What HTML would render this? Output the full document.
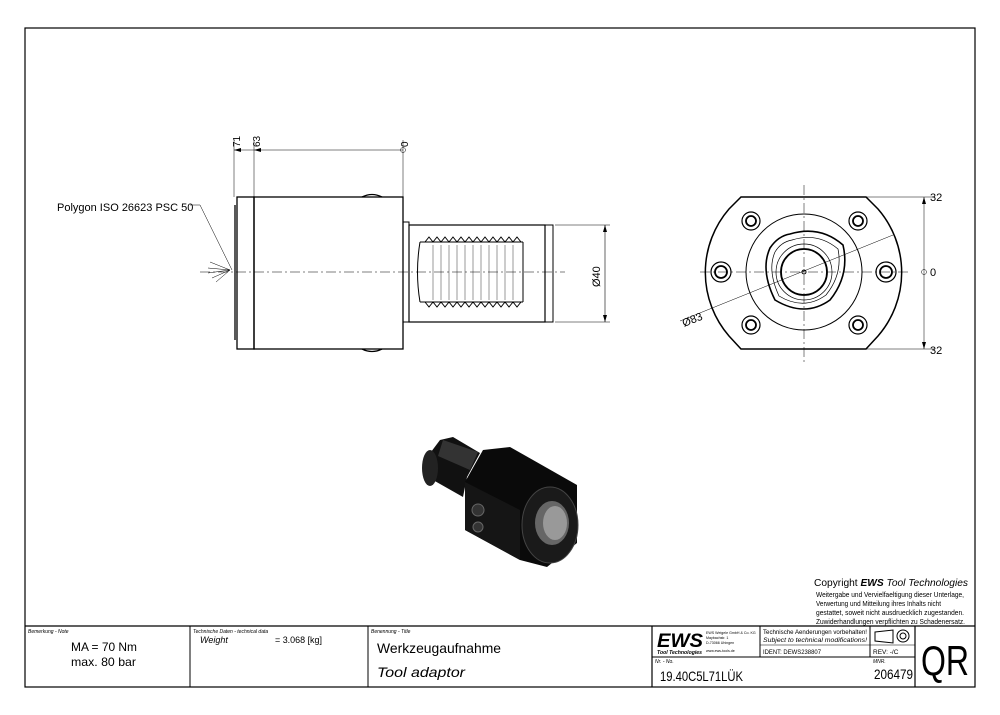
<!DOCTYPE html>
<html><head><meta charset="utf-8"><style>
html,body{margin:0;padding:0;background:#fff;}
svg{display:block;font-family:"Liberation Sans",sans-serif;}
</style></head><body>
<svg width="1000" height="715" viewBox="0 0 1000 715" xmlns="http://www.w3.org/2000/svg">
<rect x="25" y="28" width="950" height="659" fill="none" stroke="#000" stroke-width="1.2"/>

<!-- side view -->
<g fill="none" stroke="#000" stroke-width="1">
<line x1="200" y1="272" x2="565" y2="272" stroke-dasharray="10,3,2,3" stroke-width="0.6"/>
<rect x="237" y="197" width="17" height="152" stroke-width="1.3"/>
<line x1="235" y1="205" x2="235" y2="340" stroke-width="1.3"/>
<rect x="254" y="197" width="149" height="152" stroke-width="1.3"/>
<path d="M362 197 q10 -5 20 0 M362 349 q10 5 20 0" stroke-width="1.3"/>
<rect x="403" y="222" width="6" height="100"/>
<rect x="409" y="225" width="136" height="97" stroke-width="1.2"/>
<rect x="545" y="225" width="8" height="97"/>
<line x1="555" y1="225" x2="610" y2="225" stroke-width="0.5"/>
<line x1="555" y1="322" x2="610" y2="322" stroke-width="0.5"/>
<line x1="605" y1="225" x2="605" y2="322" stroke-width="0.6"/>
<path d="M605 225 l-2 7 h4 z M605 322 l-2 -7 h4 z" fill="#000" stroke="none"/>
<path d="M420 242 q-5 30 0 60"/>
<path d="M420 242 L523 242 M420 302 L523 302 M523 242 V302"/>
<path d="M425 242 l4 -5 l4 5 l4 -5 l4 5 l4 -5 l4 5 l4 -5 l4 5 l4 -5 l4 5 l4 -5 l4 5 l4 -5 l4 5 l4 -5 l4 5 l4 -5 l4 5 l4 -5 l4 5 l4 -5 l4 5 l4 -5 l4 5"/>
<path d="M425 302 l4 5 l4 -5 l4 5 l4 -5 l4 5 l4 -5 l4 5 l4 -5 l4 5 l4 -5 l4 5 l4 -5 l4 5 l4 -5 l4 5 l4 -5 l4 5 l4 -5 l4 5 l4 -5 l4 5 l4 -5 l4 5 l4 -5"/>
<g stroke-width="0.4"><line x1="433" y1="245" x2="433" y2="300"/><line x1="441" y1="245" x2="441" y2="300"/><line x1="449" y1="245" x2="449" y2="300"/><line x1="457" y1="245" x2="457" y2="300"/><line x1="465" y1="245" x2="465" y2="300"/><line x1="473" y1="245" x2="473" y2="300"/><line x1="481" y1="245" x2="481" y2="300"/><line x1="489" y1="245" x2="489" y2="300"/><line x1="497" y1="245" x2="497" y2="300"/><line x1="505" y1="245" x2="505" y2="300"/><line x1="513" y1="245" x2="513" y2="300"/></g>
<g stroke-width="0.5">
<line x1="234" y1="140" x2="234" y2="197"/><line x1="254" y1="140" x2="254" y2="197"/><line x1="403" y1="140" x2="403" y2="197"/>
<line x1="234" y1="150" x2="403" y2="150"/>
<circle cx="403" cy="150" r="2.5"/>
<path d="M200 205 H190 M200 205 L232 270 M230 270 l-20 -8 M230 270 l-22 -2 M230 270 l-22 3 M230 270 l-18 8 M230 270 l-14 12"/>
</g>
<path d="M234 150 l7 -2 v4 z M254 150 l7 -2 v4 z" fill="#000" stroke="none"/>
</g>
<text x="57" y="211" font-size="11">Polygon ISO 26623 PSC 50</text>
<text transform="translate(240,147) rotate(-90)" font-size="10">71</text>
<text transform="translate(260,147) rotate(-90)" font-size="10">63</text>
<text transform="translate(408,147) rotate(-90)" font-size="10">0</text>
<text transform="translate(600,287) rotate(-90)" font-size="11">Ø40</text>

<!-- front view -->
<g fill="none" stroke="#000" stroke-width="1">
<line x1="804" y1="185" x2="804" y2="362" stroke-width="0.5" stroke-dasharray="10,3,2,3"/>
<line x1="700" y1="272" x2="910" y2="272" stroke-width="0.5" stroke-dasharray="10,3,2,3"/>
<path d="M741 197 H866 L878 209 A97 97 0 0 1 878 336 L866 349 H741 L729 336 A97 97 0 0 1 729 209 Z" stroke-width="1.5"/>
<circle cx="804" cy="272" r="58"/>
<path d="M790 234 Q820 225 843 245 Q850 275 830 300 Q805 318 775 300 Q760 270 770 248 Q778 236 790 234 Z" stroke-width="1.6"/>
<path d="M792 240 Q818 232 838 249 Q843 274 826 295 Q804 311 779 296 Q767 270 775 252 Q781 242 792 240 Z" stroke-width="0.7"/>
<circle cx="804" cy="272" r="23" stroke-width="1.8"/>
<circle cx="804" cy="272" r="28" stroke-width="0.7"/>
<circle cx="804" cy="272" r="2"/>
<g stroke-width="1.2">
<circle cx="751" cy="221" r="9"/><circle cx="751" cy="221" r="5" stroke-width="1.8"/>
<circle cx="858" cy="221" r="9"/><circle cx="858" cy="221" r="5" stroke-width="1.8"/>
<circle cx="751" cy="325" r="9"/><circle cx="751" cy="325" r="5" stroke-width="1.8"/>
<circle cx="858" cy="325" r="9"/><circle cx="858" cy="325" r="5" stroke-width="1.8"/>
<circle cx="721" cy="272" r="10"/><circle cx="721" cy="272" r="6" stroke-width="1.8"/>
<circle cx="886" cy="272" r="10"/><circle cx="886" cy="272" r="6" stroke-width="1.8"/>
</g>
<g stroke-width="0.5">
<line x1="680" y1="321" x2="893" y2="235"/>
<line x1="866" y1="197" x2="935" y2="197"/><line x1="866" y1="349" x2="935" y2="349"/>
<line x1="924" y1="197" x2="924" y2="349"/>
<circle cx="924" cy="272" r="2.5"/>
</g>
<path d="M924 197 l-2 7 h4 z M924 349 l-2 -7 h4 z" fill="#000" stroke="none"/>
</g>
<text x="930" y="201" font-size="11">32</text>
<text x="930" y="276" font-size="11">0</text>
<text x="930" y="354" font-size="11">32</text>
<text transform="translate(684,327) rotate(-22)" font-size="11">Ø83</text>

<!-- 3D -->
<g>
<path d="M425 460 L440 440 L453 437 L480 453 L467 477 L463 497 L433 480 Z" fill="#111"/>
<ellipse cx="430" cy="468" rx="8" ry="18" fill="#222"/>
<path d="M443 440 L478 452 L470 470 L438 456 Z" fill="#333"/>
<path d="M483 450 L510 447 L533 460 L577 485 L577 543 L547 567 L520 560 L465 530 L465 482 Z" fill="#0a0a0a"/>
<path d="M465 482 L520 510 L520 560 L465 530 Z" fill="#151515"/>
<ellipse cx="550" cy="525" rx="28" ry="38" fill="#1a1a1a" stroke="#444"/>
<ellipse cx="552" cy="523" rx="17" ry="22" fill="#666"/>
<ellipse cx="555" cy="523" rx="12" ry="17" fill="#999"/>
<circle cx="478" cy="510" r="6" fill="#333" stroke="#666"/>
<circle cx="478" cy="527" r="5" fill="#333" stroke="#666"/>
</g>

<!-- copyright -->
<text x="814" y="586" font-size="10.5" textLength="154" lengthAdjust="spacingAndGlyphs">Copyright <tspan font-weight="bold" font-style="italic">EWS</tspan> <tspan font-style="italic">Tool Technologies</tspan></text>
<g font-size="7.4">
<text x="816" y="597" textLength="148" lengthAdjust="spacingAndGlyphs">Weitergabe und Vervielfaeltigung dieser Unterlage,</text>
<text x="816" y="606" textLength="125" lengthAdjust="spacingAndGlyphs">Verwertung und Mitteilung ihres Inhalts nicht</text>
<text x="816" y="615" textLength="148" lengthAdjust="spacingAndGlyphs">gestattet, soweit nicht ausdruecklich zugestanden.</text>
<text x="816" y="624" textLength="149" lengthAdjust="spacingAndGlyphs">Zuwiderhandlungen verpflichten zu Schadenersatz.</text>
</g>

<!-- title block -->
<g fill="none" stroke="#000" stroke-width="1">
<line x1="25" y1="626" x2="975" y2="626" stroke-width="1.2"/>
<line x1="190" y1="626" x2="190" y2="687"/>
<line x1="368" y1="626" x2="368" y2="687"/>
<line x1="652" y1="626" x2="652" y2="687" stroke-width="1.2"/>
<line x1="760" y1="626" x2="760" y2="657"/>
<line x1="870" y1="626" x2="870" y2="657"/>
<line x1="915" y1="626" x2="915" y2="687" stroke-width="1.2"/>
<line x1="652" y1="657" x2="915" y2="657"/>
<line x1="760" y1="645" x2="915" y2="645" stroke-width="0.6"/>
<path d="M875 632 L893 630 V643 L875 641 Z"/>
<circle cx="903" cy="636" r="6"/><circle cx="903" cy="636" r="3"/>
</g>
<g font-size="5" font-style="italic">
<text x="28" y="633">Bemerkung - Note</text>
<text x="193" y="633">Technische Daten - technical data</text>
<text x="371" y="633">Benennung - Title</text>
<text x="655" y="663">Nr. - No.</text>
<text x="873" y="663">MNR.</text>
</g>
<text x="71" y="651" font-size="12" textLength="66" lengthAdjust="spacingAndGlyphs">MA = 70 Nm</text>
<text x="71" y="666" font-size="12" textLength="65" lengthAdjust="spacingAndGlyphs">max. 80 bar</text>
<text x="200" y="643" font-size="9" font-style="italic">Weight</text>
<text x="275" y="643" font-size="9" textLength="47" lengthAdjust="spacingAndGlyphs">= 3.068 [kg]</text>
<text x="377" y="653" font-size="14" textLength="124" lengthAdjust="spacingAndGlyphs">Werkzeugaufnahme</text>
<text x="377" y="677" font-size="14" font-style="italic" textLength="88" lengthAdjust="spacingAndGlyphs">Tool adaptor</text>
<text x="657" y="647" font-size="19" font-weight="bold" font-style="italic" textLength="46" lengthAdjust="spacingAndGlyphs">EWS</text>
<text x="657" y="654" font-size="5.5" font-weight="bold" font-style="italic" textLength="45" lengthAdjust="spacingAndGlyphs">Tool Technologies</text>
<g font-size="3.6"><text x="706" y="634">EWS Weigele GmbH &amp; Co. KG</text><text x="706" y="639">Maybachstr. 1</text><text x="706" y="644">D-73066 Uhingen</text><text x="706" y="652">www.ews-tools.de</text></g>
<text x="763" y="634" font-size="6.5" textLength="104" lengthAdjust="spacingAndGlyphs">Technische Aenderungen vorbehalten!</text>
<text x="763" y="642" font-size="6.5" font-style="italic" textLength="104" lengthAdjust="spacingAndGlyphs">Subject to technical modifications!</text>
<text x="763" y="654" font-size="6.5" textLength="58" lengthAdjust="spacingAndGlyphs">IDENT:  DEWS238807</text>
<text x="873" y="654" font-size="6.5">REV:  -/C</text>
<text x="660" y="681" font-size="14" textLength="83" lengthAdjust="spacingAndGlyphs">19.40C5L71LÜK</text>
<text x="874" y="679" font-size="14" textLength="39" lengthAdjust="spacingAndGlyphs">206479</text>
<text x="921" y="675" font-size="42" textLength="48" lengthAdjust="spacingAndGlyphs">QR</text>
</svg>
</body></html>
